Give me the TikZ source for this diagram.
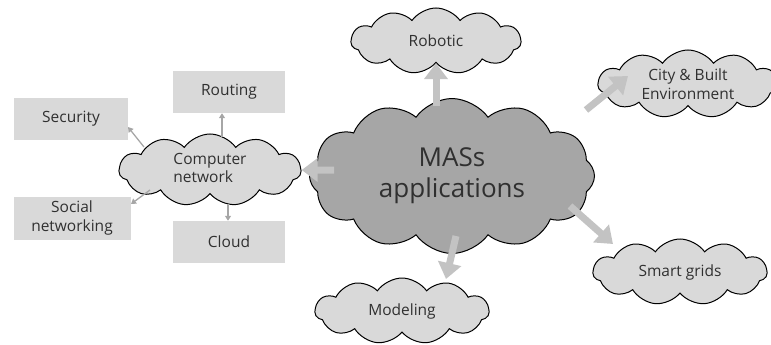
\documentclass[tikz,border=0pt]{standalone}
\usepackage{fontspec}
\setmainfont{Open Sans}
\usetikzlibrary{shapes.symbols,arrows.meta}
\definecolor{lightfill}{HTML}{D9D9D9}
\definecolor{darkfill}{HTML}{A6A6A6}
\definecolor{arrowgray}{HTML}{C3C3C3}
\definecolor{txt}{HTML}{303030}
\tikzset{
  cloudnode/.style={cloud, cloud puffs=11, cloud puff arc=110, cloud ignores aspect, draw=black, line width=1pt, fill=lightfill, text=txt, font=\fontsize{15.5}{18.5}\selectfont, align=center, inner sep=0pt},
  bigcloud/.style={cloudnode, fill=darkfill, font=\fontsize{26}{31}\selectfont, cloud puffs=12},
  boxnode/.style={rectangle, fill=lightfill, text=txt, font=\fontsize{15.5}{18.5}\selectfont, align=center, inner sep=0pt},
  bigarrow/.style={draw=arrowgray, line width=7pt, -{Triangle[length=16pt,width=23pt]}, color=arrowgray},
  thinarrow/.style={draw=arrowgray!85!black, line width=1.3pt, -{Triangle[length=5pt,width=6pt]}},
}
\begin{document}
\begin{tikzpicture}[x=1pt,y=-1pt]
\useasboundingbox (0,0) rectangle (771,345);
% clouds
\node[bigcloud, minimum width=285, minimum height=155] (mas) at (452,176) {MASs\\applications};
\node[cloudnode, minimum width=170, minimum height=66] (rob) at (436,41) {Robotic};
\node[cloudnode, minimum width=180, minimum height=68] (city) at (688,84) {City \& Built\\Environment};
\node[cloudnode, minimum width=174, minimum height=66] (smart) at (680,272) {Smart grids};
\node[cloudnode, minimum width=174, minimum height=66] (model) at (402,311) {Modeling};
\node[cloudnode, minimum width=182, minimum height=72] (cn) at (210,170) {\begin{tabular}{@{}l@{}}Computer\\network\end{tabular}};
% boxes
\node[boxnode, minimum width=114, minimum height=42] (sec) at (71,119) {Security};
\node[boxnode, minimum width=112, minimum height=42] (rout) at (229,92) {Routing};
\node[boxnode, minimum width=117, minimum height=43] (soc) at (72,218) {Social\\networking};
\node[boxnode, minimum width=112, minimum height=42] (cld) at (229,242) {Cloud};
% big arrows
\draw[bigarrow] (mas.north -| rob.south) ++(0,8) -- (rob.south);
\coordinate (m1) at (586,110);
\coordinate (c1) at (628,76);
\draw[bigarrow] (m1) -- (c1);
\coordinate (m2) at (570,206);
\coordinate (s1) at (613,244);
\draw[bigarrow] (m2) -- (s1);
\coordinate (m3) at (456,236);
\coordinate (d1) at (446,279);
\draw[bigarrow] (m3) -- (d1);
\coordinate (m4) at (334,170);
\draw[bigarrow] (m4) -- (cn.east);
% thin arrows
\draw[thinarrow] (222,137) -- (rout.south -| 222,0);
\draw[thinarrow] (144,147) -- (128,127);
\draw[thinarrow] (228,204) -- (cld.north -| 228,0);
\draw[thinarrow] (150,190) -- (131,204);
\end{tikzpicture}
\end{document}
